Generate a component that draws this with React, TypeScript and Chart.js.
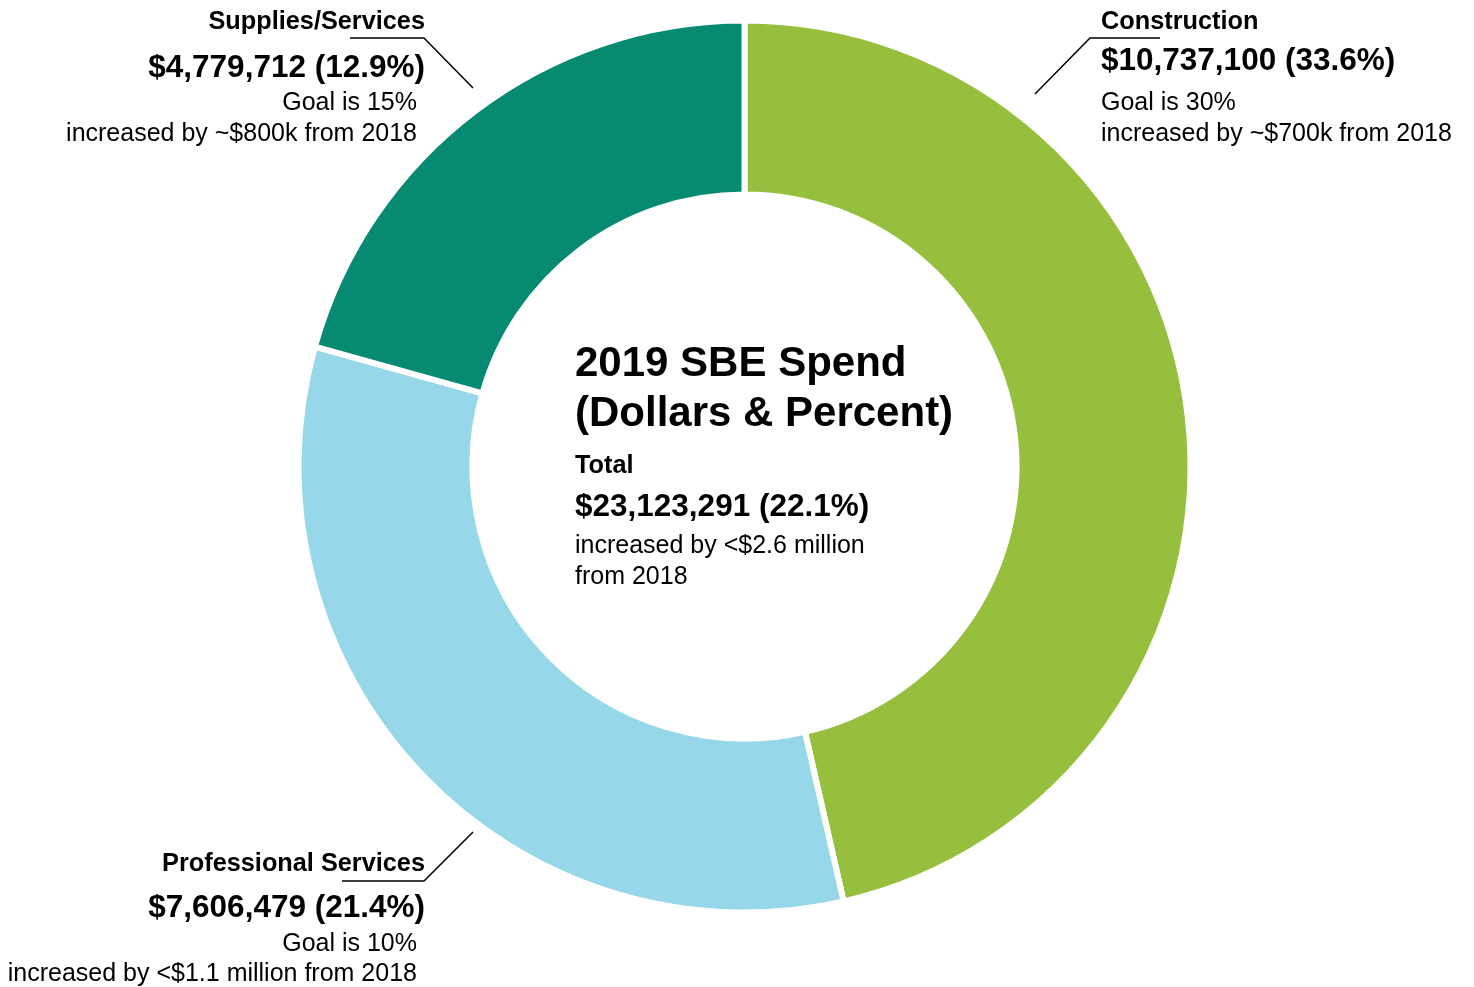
import React, { useEffect, useRef } from "react";
import { Chart, registerables } from "chart.js";

Chart.register(...registerables);

const categories = ["Construction", "Professional Services", "Supplies/Services"];
const spendValues = [10737100, 7606479, 4779712];
const sliceColors = ["#97BF3E", "#96D8EA", "#068A72"];
const valueLabels = ["$10,737,100 (33.6%)", "$7,606,479 (21.4%)", "$4,779,712 (12.9%)"];
const goalLabels = ["Goal is 30%", "Goal is 10%", "Goal is 15%"];
const changeLabels = [
  "increased by ~$700k from 2018",
  "increased by <$1.1 million from 2018",
  "increased by ~$800k from 2018",
];
const centerTitle = ["2019 SBE Spend", "(Dollars & Percent)"];
const totalLabel = "Total";
const totalValue = "$23,123,291 (22.1%)";
const totalChange = ["increased by <$2.6 million", "from 2018"];

const FONT = "'Liberation Sans', Arial, Helvetica, sans-serif";

export default function App() {
  const canvasRef = useRef<HTMLCanvasElement | null>(null);

  useEffect(() => {
    const prevMargin = document.body.style.margin;
    document.body.style.margin = "0";
    const ctx = canvasRef.current!;
    const chart = new Chart(ctx, {
      type: "doughnut",
      data: {
        labels: categories,
        datasets: [
          {
            data: spendValues,
            backgroundColor: sliceColors,
            borderColor: "#ffffff",
            borderWidth: 6,
          },
        ],
      },
      options: {
        responsive: false,
        animation: false,
        radius: 446,
        cutout: "61%",
        layout: { padding: { left: 15, right: 0, top: 0, bottom: 54 } },
        plugins: {
          legend: { display: false },
          tooltip: { enabled: false },
        },
      } as any,
    });
    return () => {
      chart.destroy();
      document.body.style.margin = prevMargin;
    };
  }, []);

  const bold = { fontFamily: FONT, fontWeight: 700, fill: "#000" } as any;
  const reg = { fontFamily: FONT, fontWeight: 400, fill: "#000" } as any;
  const SMALL = 25;
  const HEAD = 25.3;
  const VAL = 31.5;
  const TITLE = 42;

  return (
    <div style={{ position: "fixed", left: 0, top: 0, width: 1474, height: 987, background: "#fff" }}>
      <canvas ref={canvasRef} width={1474} height={987} style={{ position: "absolute", left: 0, top: 0 }} />
      <svg width={1474} height={987} style={{ position: "absolute", left: 0, top: 0 }}>
        {/* leader lines */}
        <polyline points="350,38 424,38 473,88" fill="none" stroke="#000" strokeWidth={1.5} />
        <polyline points="1160,38 1090,38 1035,94" fill="none" stroke="#000" strokeWidth={1.5} />
        <polyline points="342,881 424,881 473,832" fill="none" stroke="#000" strokeWidth={1.5} />

        {/* Supplies/Services */}
        <text x={425} y={29} textAnchor="end" fontSize={HEAD} style={bold}>{categories[2]}</text>
        <text x={425} y={77} textAnchor="end" fontSize={VAL} style={bold}>{valueLabels[2]}</text>
        <text x={417} y={110} textAnchor="end" fontSize={SMALL} style={reg}>{goalLabels[2]}</text>
        <text x={417} y={141} textAnchor="end" fontSize={SMALL} style={reg}>{changeLabels[2]}</text>

        {/* Construction */}
        <text x={1101} y={29} fontSize={HEAD} style={bold}>{categories[0]}</text>
        <text x={1101} y={70} fontSize={VAL} style={bold}>{valueLabels[0]}</text>
        <text x={1101} y={110} fontSize={SMALL} style={reg}>{goalLabels[0]}</text>
        <text x={1101} y={141} fontSize={SMALL} style={reg}>{changeLabels[0]}</text>

        {/* Professional Services */}
        <text x={425} y={871} textAnchor="end" fontSize={HEAD} style={bold}>{categories[1]}</text>
        <text x={425} y={917} textAnchor="end" fontSize={VAL} style={bold}>{valueLabels[1]}</text>
        <text x={417} y={951} textAnchor="end" fontSize={SMALL} style={reg}>{goalLabels[1]}</text>
        <text x={417} y={981} textAnchor="end" fontSize={SMALL} style={reg}>{changeLabels[1]}</text>

        {/* Center */}
        <text x={575} y={376} fontSize={TITLE} style={bold}>{centerTitle[0]}</text>
        <text x={575} y={426} fontSize={TITLE} style={bold}>{centerTitle[1]}</text>
        <text x={575} y={473} fontSize={HEAD} style={bold}>{totalLabel}</text>
        <text x={575} y={516} fontSize={VAL} style={bold}>{totalValue}</text>
        <text x={575} y={553} fontSize={SMALL} style={reg}>{totalChange[0]}</text>
        <text x={575} y={584} fontSize={SMALL} style={reg}>{totalChange[1]}</text>
      </svg>
    </div>
  );
}
